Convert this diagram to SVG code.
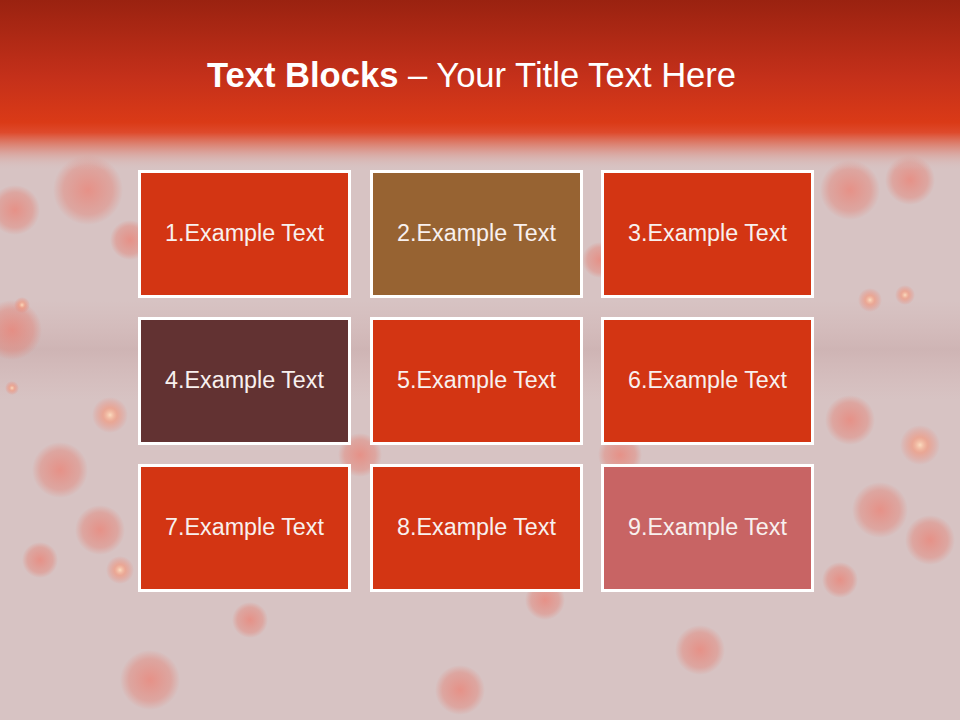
<svg xmlns="http://www.w3.org/2000/svg" width="960" height="720" viewBox="0 0 960 720">
<defs>
<linearGradient id="top" x1="0" y1="0" x2="0" y2="1">
<stop offset="0" stop-color="#9A2210"/>
<stop offset="0.45" stop-color="#C4301A"/>
<stop offset="0.72" stop-color="#DA3A17"/>
<stop offset="0.78" stop-color="#DE4A2C"/>
<stop offset="0.88" stop-color="#DC8D80" stop-opacity="0.8"/>
<stop offset="1" stop-color="#D8C0C0" stop-opacity="0"/>
</linearGradient>
<radialGradient id="bk">
<stop offset="0" stop-color="#F07060" stop-opacity="0.6"/>
<stop offset="0.7" stop-color="#E87060" stop-opacity="0.35"/>
<stop offset="1" stop-color="#E87060" stop-opacity="0"/>
</radialGradient>
<radialGradient id="bk2">
<stop offset="0" stop-color="#FFE0C0" stop-opacity="0.9"/>
<stop offset="0.4" stop-color="#F89070" stop-opacity="0.55"/>
<stop offset="1" stop-color="#F07060" stop-opacity="0"/>
</radialGradient>
<linearGradient id="band" x1="0" y1="0" x2="0" y2="1">
<stop offset="0" stop-color="#C89090" stop-opacity="0"/>
<stop offset="0.5" stop-color="#B08080" stop-opacity="0.22"/>
<stop offset="1" stop-color="#C89090" stop-opacity="0"/>
</linearGradient>
<style>
.box{stroke:#FFFFFF;stroke-width:3}
.lbl{font-family:"Liberation Sans",Arial,sans-serif;font-size:23.3px;fill:#F8F0EE;text-anchor:middle}
</style>
</defs>
<rect width="960" height="720" fill="#D7C3C3"/>
<g id="bokeh">
<rect x="0" y="300" width="960" height="100" fill="url(#band)"/>
<circle cx="88" cy="190" r="35" fill="url(#bk)"/>
<circle cx="15" cy="210" r="25" fill="url(#bk)"/>
<circle cx="12" cy="330" r="30" fill="url(#bk)"/>
<circle cx="130" cy="240" r="20" fill="url(#bk)"/>
<circle cx="22" cy="305" r="8" fill="url(#bk2)"/>
<circle cx="12" cy="388" r="7" fill="url(#bk2)"/>
<circle cx="110" cy="415" r="18" fill="url(#bk2)"/>
<circle cx="60" cy="470" r="28" fill="url(#bk)"/>
<circle cx="100" cy="530" r="25" fill="url(#bk)"/>
<circle cx="40" cy="560" r="18" fill="url(#bk)"/>
<circle cx="120" cy="570" r="14" fill="url(#bk2)"/>
<circle cx="850" cy="190" r="30" fill="url(#bk)"/>
<circle cx="910" cy="180" r="25" fill="url(#bk)"/>
<circle cx="870" cy="300" r="12" fill="url(#bk2)"/>
<circle cx="905" cy="295" r="10" fill="url(#bk2)"/>
<circle cx="920" cy="445" r="20" fill="url(#bk2)"/>
<circle cx="850" cy="420" r="25" fill="url(#bk)"/>
<circle cx="880" cy="510" r="28" fill="url(#bk)"/>
<circle cx="930" cy="540" r="25" fill="url(#bk)"/>
<circle cx="840" cy="580" r="18" fill="url(#bk)"/>
<circle cx="600" cy="260" r="18" fill="url(#bk)"/>
<circle cx="360" cy="455" r="22" fill="url(#bk)"/>
<circle cx="620" cy="455" r="22" fill="url(#bk)"/>
<circle cx="545" cy="600" r="20" fill="url(#bk)"/>
<circle cx="250" cy="620" r="18" fill="url(#bk)"/>
<circle cx="700" cy="650" r="25" fill="url(#bk)"/>
<circle cx="150" cy="680" r="30" fill="url(#bk)"/>
<circle cx="460" cy="690" r="25" fill="url(#bk)"/>
</g>
<rect width="960" height="170" fill="url(#top)"/>
<g id="title">
<text x="471.5" y="87" style="font-family:'Liberation Sans',Arial,sans-serif;font-size:34.6px;fill:#FFFFFF;text-anchor:middle"><tspan font-weight="bold">Text Blocks</tspan> – Your Title Text Here</text>
</g>
<g id="box1"><rect class="box" x="139.5" y="171.5" width="210" height="125" fill="#D33513"/><text class="lbl" x="244.5" y="241">1.Example Text</text></g>
<g id="box2"><rect class="box" x="371.5" y="171.5" width="210" height="125" fill="#976332"/><text class="lbl" x="476.5" y="241">2.Example Text</text></g>
<g id="box3"><rect class="box" x="602.5" y="171.5" width="210" height="125" fill="#D33513"/><text class="lbl" x="707.5" y="241">3.Example Text</text></g>
<g id="box4"><rect class="box" x="139.5" y="318.5" width="210" height="125" fill="#623232"/><text class="lbl" x="244.5" y="388">4.Example Text</text></g>
<g id="box5"><rect class="box" x="371.5" y="318.5" width="210" height="125" fill="#D33513"/><text class="lbl" x="476.5" y="388">5.Example Text</text></g>
<g id="box6"><rect class="box" x="602.5" y="318.5" width="210" height="125" fill="#D33513"/><text class="lbl" x="707.5" y="388">6.Example Text</text></g>
<g id="box7"><rect class="box" x="139.5" y="465.5" width="210" height="125" fill="#D33513"/><text class="lbl" x="244.5" y="535">7.Example Text</text></g>
<g id="box8"><rect class="box" x="371.5" y="465.5" width="210" height="125" fill="#D33513"/><text class="lbl" x="476.5" y="535">8.Example Text</text></g>
<g id="box9"><rect class="box" x="602.5" y="465.5" width="210" height="125" fill="#C86464"/><text class="lbl" x="707.5" y="535">9.Example Text</text></g>
<g id="connectors"/>
</svg>
